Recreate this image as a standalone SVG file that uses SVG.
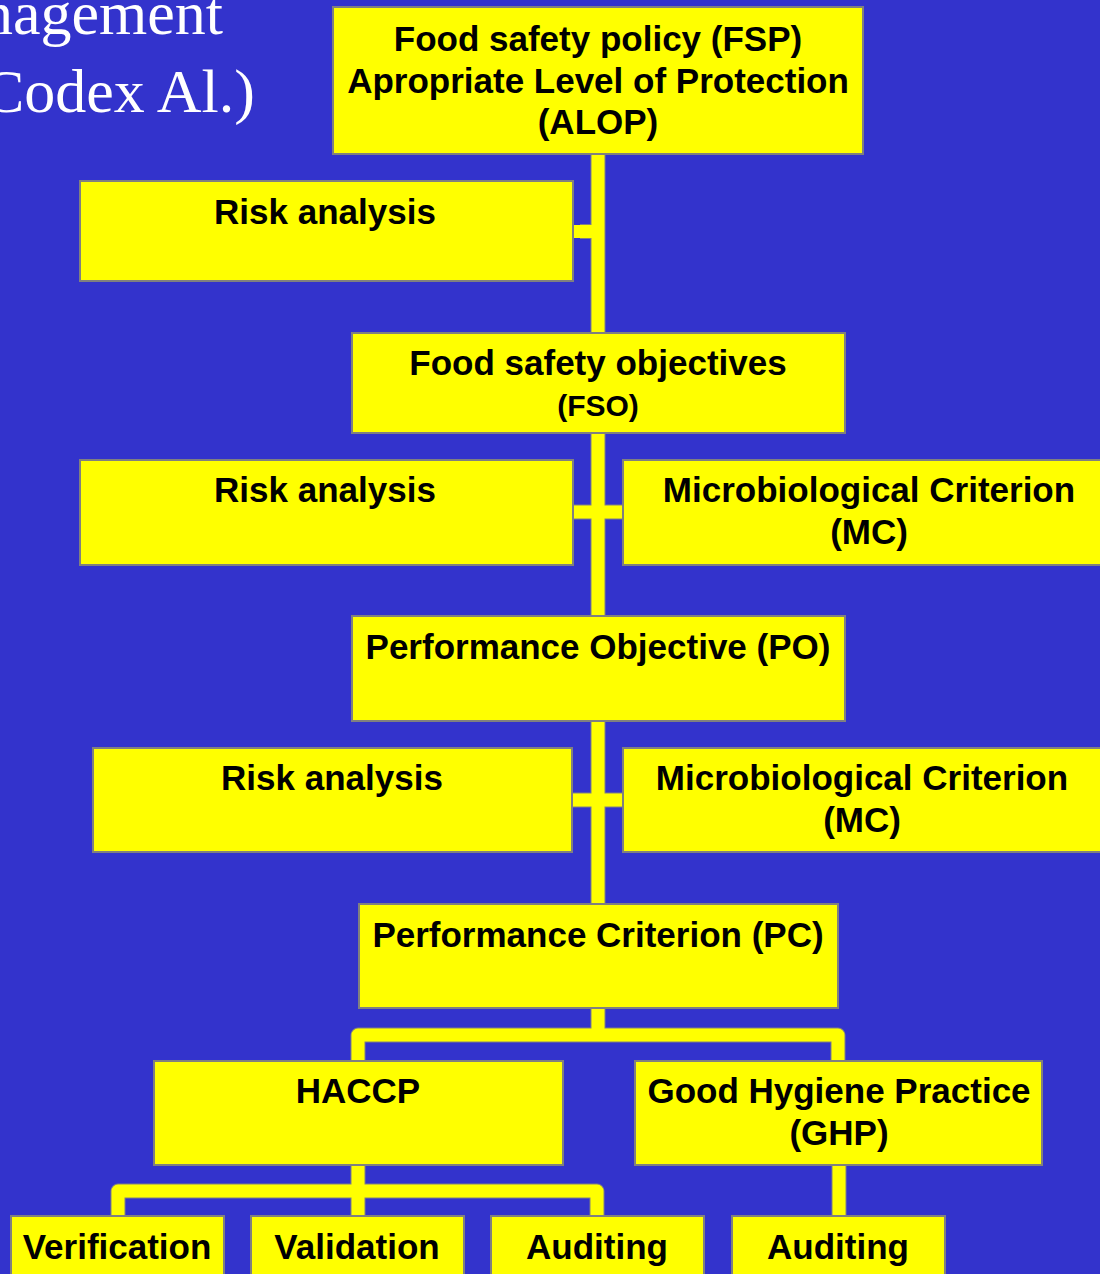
<svg xmlns="http://www.w3.org/2000/svg" width="1100" height="1274" viewBox="0 0 1100 1274">
<style>
.box{fill:#FFFF00;stroke:#808080;stroke-width:2}
.t{font-family:"Liberation Sans",Arial,sans-serif;font-weight:bold;font-size:35px;fill:#000;text-anchor:middle}
.s{font-size:30px}
.title{font-family:"Liberation Serif","Times New Roman",serif;font-size:62px;fill:#fff;text-anchor:end}
.co{fill:none;stroke:#808080;stroke-width:15;stroke-linejoin:round}
.ci{fill:none;stroke:#FFFF00;stroke-width:13;stroke-linejoin:round}
</style>
<rect x="0" y="0" width="1100" height="1274" fill="#3333CC"/>
<g id="title">
<text class="title" x="223" y="34">management</text>
<text class="title" x="255" y="112">(Codex Al.)</text>
</g>
<g id="connectors">
<g class="co">
<path d="M598,154V333M580,231.5H598M598,433V616M573,512H623M598,721V904M573,800H623M598,1008V1035M358,1060V1035H838V1060M358,1165V1191M118,1215V1191H597V1215M358,1191V1215M839,1165V1215"/>
</g>
<g class="ci">
<path d="M598,154V333M573,231.5H598M598,433V616M573,512H623M598,721V904M573,800H623M598,1008V1035M358,1060V1035H838V1060M358,1165V1191M118,1215V1191H597V1215M358,1191V1215M839,1165V1215"/>
</g>
</g>
<g id="fsp">
<rect class="box" x="333" y="7" width="530" height="147"/>
<text class="t" x="598" y="51">Food safety policy (FSP)</text>
<text class="t" x="598" y="93">Apropriate Level of Protection</text>
<text class="t" x="598" y="134">(ALOP)</text>
</g>
<g id="risk1">
<rect class="box" x="80" y="181" width="493" height="100"/>
<text class="t" x="325" y="224">Risk analysis</text>
</g>
<g id="fso">
<rect class="box" x="352" y="333" width="493" height="100"/>
<text class="t" x="598" y="375">Food safety objectives</text>
<text class="t s" x="598" y="416">(FSO)</text>
</g>
<g id="risk2">
<rect class="box" x="80" y="460" width="493" height="105"/>
<text class="t" x="325" y="502">Risk analysis</text>
</g>
<g id="mc1">
<rect class="box" x="623" y="460" width="492" height="105"/>
<text class="t" x="869" y="502">Microbiological Criterion</text>
<text class="t" x="869" y="544">(MC)</text>
</g>
<g id="po">
<rect class="box" x="352" y="616" width="493" height="105"/>
<text class="t" x="598" y="659">Performance Objective (PO)</text>
</g>
<g id="risk3">
<rect class="box" x="93" y="748" width="479" height="104"/>
<text class="t" x="332" y="790">Risk analysis</text>
</g>
<g id="mc2">
<rect class="box" x="623" y="748" width="478" height="104"/>
<text class="t" x="862" y="790">Microbiological Criterion</text>
<text class="t" x="862" y="832">(MC)</text>
</g>
<g id="pc">
<rect class="box" x="359" y="904" width="479" height="104"/>
<text class="t" x="598" y="947">Performance Criterion (PC)</text>
</g>
<g id="haccp">
<rect class="box" x="154" y="1061" width="409" height="104"/>
<text class="t" x="358" y="1103">HACCP</text>
</g>
<g id="ghp">
<rect class="box" x="635" y="1061" width="407" height="104"/>
<text class="t" x="839" y="1103">Good Hygiene Practice</text>
<text class="t" x="839" y="1145">(GHP)</text>
</g>
<g id="verification">
<rect class="box" x="11" y="1216" width="213" height="80"/>
<text class="t" x="117" y="1259">Verification</text>
</g>
<g id="validation">
<rect class="box" x="251" y="1216" width="213" height="80"/>
<text class="t" x="357" y="1259">Validation</text>
</g>
<g id="auditing1">
<rect class="box" x="491" y="1216" width="213" height="80"/>
<text class="t" x="597" y="1259">Auditing</text>
</g>
<g id="auditing2">
<rect class="box" x="732" y="1216" width="213" height="80"/>
<text class="t" x="838" y="1259">Auditing</text>
</g>
</svg>
